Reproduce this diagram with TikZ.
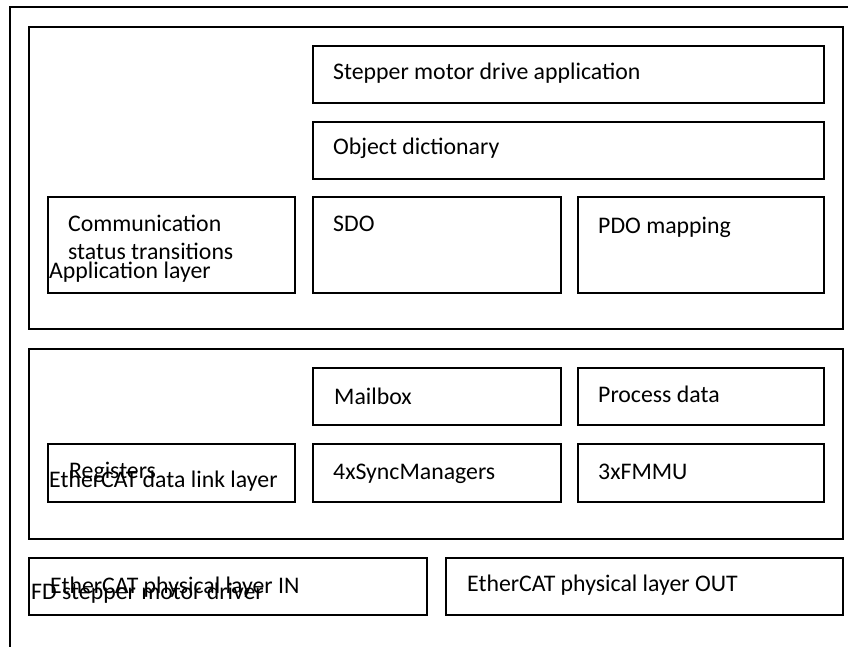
\documentclass[tikz,border=0pt]{standalone}
\usepackage{fontspec}
\setmainfont{Carlito}
\usetikzlibrary{positioning, calc}

\tikzset{
  blk/.style={draw, line width=2pt, anchor=north west, inner sep=0pt},
  lbl/.style={anchor=base west, inner sep=0pt, font=\fontsize{23.8}{26}\selectfont}
}

\begin{document}
\begin{tikzpicture}[x=1pt, y=-1pt]
\useasboundingbox (0,0) rectangle (848,647);
% Outer frame (FD stepper motor driver)
\draw[line width=2pt] (10,647) -- (10,7) -- (848,7);

% Application layer
\node[blk, minimum width=814, minimum height=302] (app) at (28,26) {};
\node[blk, minimum width=511, minimum height=57] (drive) at (312,45) {};
\node[blk, minimum width=511, minimum height=57] (objdict) at (312,121) {};
\node[blk, minimum width=247, minimum height=96] (comm) at (47,196) {};
\node[blk, minimum width=248, minimum height=96] (sdo) at (312,196) {};
\node[blk, minimum width=246, minimum height=96] (pdo) at (577,196) {};
\node[lbl] (drivetxt) at (333,80) {Stepper motor drive application};
\node[lbl] (objtxt) at (333,155) {Object dictionary};
\node[lbl] (commtxt) at (68,231) {Communication};
\node[lbl] (statustxt) at (68,259) {status transitions};
\node[lbl] (apptxt) at (49,278) {Application layer};
\node[lbl] (sdotxt) at (333,231) {SDO};
\node[lbl] (pdotxt) at (598,233) {PDO mapping};

% EtherCAT data link layer
\node[blk, minimum width=814, minimum height=190] (dll) at (28,348) {};
\node[blk, minimum width=248, minimum height=57] (mail) at (312,367) {};
\node[blk, minimum width=246, minimum height=57] (proc) at (577,367) {};
\node[blk, minimum width=247, minimum height=58] (reg) at (47,443) {};
\node[blk, minimum width=248, minimum height=58] (sync) at (312,443) {};
\node[blk, minimum width=246, minimum height=58] (fmmu) at (577,443) {};
\node[lbl] (mailtxt) at (334,404) {Mailbox};
\node[lbl] (proctxt) at (598,402) {Process data};
\node[lbl] (regtxt) at (69,478) {Registers};
\node[lbl] (dlltxt) at (49,487) {EtherCAT data link layer};
\node[lbl] (synctxt) at (333,479) {4xSyncManagers};
\node[lbl] (fmmutxt) at (598,479) {3xFMMU};

% EtherCAT physical layer
\node[blk, minimum width=398, minimum height=57] (phyin) at (28,557) {};
\node[blk, minimum width=397, minimum height=57] (phyout) at (445,557) {};
\node[lbl] (phyintxt) at (50,593) {EtherCAT physical layer IN};
\node[lbl] (fdtxt) at (31,599) {FD stepper motor driver};
\node[lbl] (phyouttxt) at (467,591) {EtherCAT physical layer OUT};
\end{tikzpicture}
\end{document}
